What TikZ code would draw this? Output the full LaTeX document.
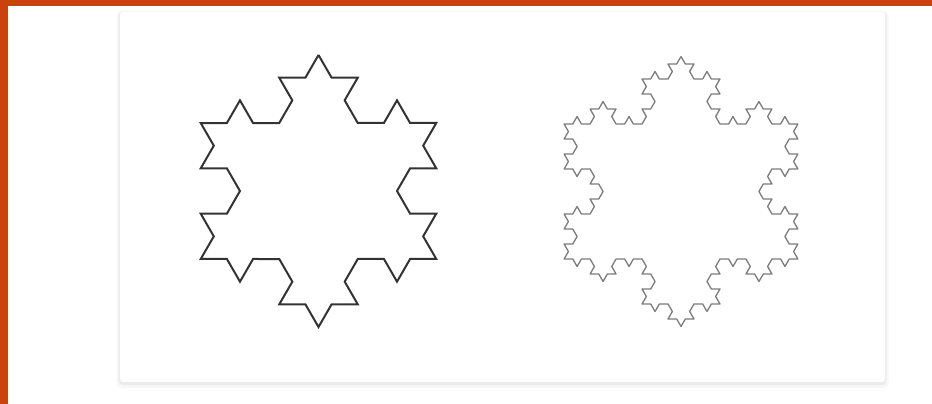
\documentclass[tikz,border=0pt]{standalone}
\usepackage{tikz}
\usetikzlibrary{decorations.fractals,calc}
\definecolor{rim}{HTML}{C9430F}
\definecolor{ink}{HTML}{333333}
\definecolor{ink2}{HTML}{7C7C7C}
\tikzset{
  card/.style={fill=white,rounded corners=3pt},
  flake/.style={draw=ink,line width=2pt,line join=miter,decoration=Koch snowflake},
  fflake/.style={draw=ink2,line width=1.3pt,line join=round,decoration=Koch snowflake},
}
\begin{document}
\begin{tikzpicture}[x=1pt,y=1pt]
\useasboundingbox (0,0) rectangle (932,404);
\fill[white] (0,0) rectangle (932,404);
\fill[rim] (0,398) rectangle (932,404);
\fill[rim] (0,0) rectangle (8,404);
% card and its soft shadow
\fill[black!3,rounded corners=5pt] (116.5,16) rectangle (888.5,393);
\fill[black!8,rounded corners=4pt] (118.5,19) rectangle (886.5,392);
\fill[card] (120,22) rectangle (885,392);
% level 2 and level 3 snowflakes
\coordinate (lc) at (318.5,213);
\coordinate (rc) at (681,212.5);
\draw[flake] decorate{decorate{ ($(lc)+(90:136)$) -- ($(lc)+(-30:136)$) -- ($(lc)+(210:136)$) -- cycle }};
\draw[fflake] decorate{decorate{decorate{ ($(rc)+(90:135)$) -- ($(rc)+(-30:135)$) -- ($(rc)+(210:135)$) -- cycle }}};
\end{tikzpicture}
\end{document}
